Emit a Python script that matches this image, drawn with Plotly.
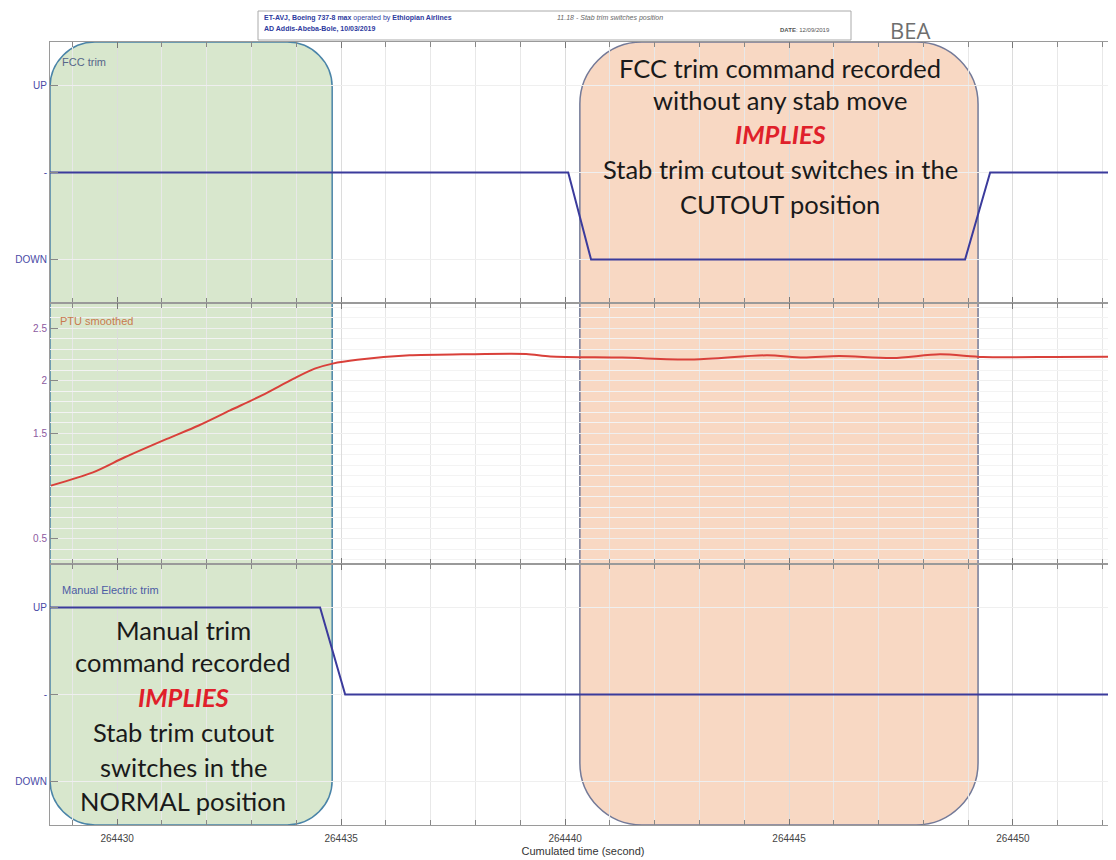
import plotly.graph_objects as go
from plotly.subplots import make_subplots

# ---------------- data ----------------
# FCC trim state (1 = UP, 0 = "-", -1 = DOWN)
fcc_time = [264428.5, 264440.07, 264440.58, 264448.93, 264449.49, 264452.3]
fcc_value = [0, 0, -1, -1, 0, 0]

# PTU smoothed
ptu_time = [264428.52, 264429.46, 264430.17, 264431.11, 264431.82, 264432.52,
            264433.23, 264433.94, 264434.41, 264434.81, 264435.36, 264436.53,
            264437.71, 264439.13, 264439.67, 264441.27, 264442.88, 264444.51,
            264445.31, 264446.12, 264447.32, 264448.37, 264449.33, 264450.94,
            264452.30]
ptu_value = [1.005, 1.131, 1.274, 1.449, 1.576, 1.719,
             1.862, 2.021, 2.116, 2.164, 2.200, 2.243,
             2.252, 2.255, 2.232, 2.221, 2.203, 2.243,
             2.221, 2.236, 2.217, 2.252, 2.227, 2.227,
             2.230]

# Manual electric trim state
man_time = [264428.5, 264434.53, 264435.09, 264452.3]
man_value = [1, 1, 0, 0]

state_tickvals = [1, 0, -1]
state_ticktext = ["UP", "-", "DOWN"]
ptu_tickvals = [0.5, 1.5, 2, 2.5]
ptu_ticktext = ["0.5", "1.5", "2", "2.5"]
time_tickvals = [264430, 264435, 264440, 264445, 264450]
time_ticktext = ["264430", "264435", "264440", "264445", "264450"]

# highlighted spans (start, end)
span_start = [264428.5, 264440.33]
span_end = [264434.80, 264449.22]

green_lines = ["Manual trim", "command recorded", "<b><i>IMPLIES</i></b>",
               "Stab trim cutout", "switches in the", "NORMAL position"]
orange_lines = ["FCC trim command recorded", "without any stab move",
                "<b><i>IMPLIES</i></b>", "Stab trim cutout switches in the",
                "CUTOUT position"]

# ---------------- figure ----------------
# page body has an 8 px margin: figure occupies screen (8..1116, 8..860)
OFF = 8
W, H = 1116 - OFF, 860 - OFF
ML, MR, MT, MB = 50 - OFF, 0, 42 - OFF, 35
PW, PH = W - ML - MR, H - MT - MB
XR = [264428.5, 264452.3]
px_per_s = PW / (XR[1] - XR[0])

fig = make_subplots(rows=3, cols=1, shared_xaxes=True, vertical_spacing=0)

blue = "#3b3b9c"
red = "#d9403a"

fig.add_trace(go.Scatter(x=fcc_time, y=fcc_value, mode="lines",
                         line=dict(color=blue, width=2), hoverinfo="skip"), row=1, col=1)
fig.add_trace(go.Scatter(x=ptu_time, y=ptu_value, mode="lines",
                         line=dict(color=red, width=2, shape="spline", smoothing=0.8),
                         hoverinfo="skip"), row=2, col=1)
fig.add_trace(go.Scatter(x=man_time, y=man_value, mode="lines",
                         line=dict(color=blue, width=2), hoverinfo="skip"), row=3, col=1)


def rounded_path(x0, x1, r_px):
    rx = r_px / px_per_s
    ry = r_px / PH
    y0, y1 = 0.0, 1.0
    k = 0.5523
    p = (f"M {x0+rx},{y1} L {x1-rx},{y1} "
         f"C {x1-rx+k*rx},{y1} {x1},{y1-ry+k*ry} {x1},{y1-ry} "
         f"L {x1},{y0+ry} "
         f"C {x1},{y0+ry-k*ry} {x1-rx+k*rx},{y0} {x1-rx},{y0} "
         f"L {x0+rx},{y0} "
         f"C {x0+rx-k*rx},{y0} {x0},{y0+ry-k*ry} {x0},{y0+ry} "
         f"L {x0},{y1-ry} "
         f"C {x0},{y1-ry+k*ry} {x0+rx-k*rx},{y1} {x0+rx},{y1} Z")
    return p


box_styles = [("#d8e7cd", "#4a84a8", 45), ("#f8d8c3", "#747a98", 62)]
for s, e, (fc, lc, r) in zip(span_start, span_end, box_styles):
    fig.add_shape(type="path", path=rounded_path(s, e, r), xref="x", yref="paper",
                  fillcolor=fc, line=dict(color=lc, width=1.5), layer="below")


def py(pix):
    # screen pixel row -> paper y
    return (H - MB - (pix - OFF)) / PH


def pxp(pix):
    # screen pixel column -> paper x
    return (pix - OFF - ML) / PW


txt_font = dict(family="Lato, 'Noto Sans', sans-serif", size=25.5, color="#1a1a1a")
green_center = 264431.47
green_y = [630, 662, 697, 732, 767, 801]
for t, yy in zip(green_lines, green_y):
    f = dict(txt_font)
    if "IMPLIES" in t:
        f["color"] = "#e0202a"
    fig.add_annotation(x=green_center, xref="x", y=py(yy), yref="paper", text=t,
                       showarrow=False, font=f, xanchor="center", yanchor="middle")

orange_center = 264444.80
orange_y = [68, 100, 134, 169, 204]
for t, yy in zip(orange_lines, orange_y):
    f = dict(txt_font)
    if "IMPLIES" in t:
        f["color"] = "#e0202a"
    fig.add_annotation(x=orange_center, xref="x", y=py(yy), yref="paper", text=t,
                       showarrow=False, font=f, xanchor="center", yanchor="middle")

# panel titles
small = "Liberation Sans, Arial, sans-serif"
fig.add_annotation(x=pxp(60), xref="paper", y=py(62), yref="paper", text="FCC trim",
                   showarrow=False, xanchor="left", yanchor="middle",
                   font=dict(family=small, size=11, color="#56668a"))
fig.add_annotation(x=pxp(58), xref="paper", y=py(321), yref="paper", text="PTU smoothed",
                   showarrow=False, xanchor="left", yanchor="middle",
                   font=dict(family=small, size=11, color="#c87a4e"))
fig.add_annotation(x=pxp(60), xref="paper", y=py(590), yref="paper", text="Manual Electric trim",
                   showarrow=False, xanchor="left", yanchor="middle",
                   font=dict(family=small, size=11, color="#4c5ca4"))

# header box
fig.add_shape(type="rect", xref="paper", yref="paper",
              x0=pxp(258), x1=pxp(851), y0=py(40), y1=py(11),
              line=dict(color="#aaaaaa", width=1), fillcolor="white")
fig.add_annotation(x=pxp(262), xref="paper", y=py(18), yref="paper",
                   text="<b>ET-AVJ, Boeing 737-8 max</b> operated by <b>Ethiopian Airlines</b>",
                   showarrow=False, xanchor="left", yanchor="middle",
                   font=dict(family=small, size=7, color="#2d3a9e"))
fig.add_annotation(x=pxp(262), xref="paper", y=py(29), yref="paper",
                   text="<b>AD Addis-Abeba-Bole, 10/03/2019</b>",
                   showarrow=False, xanchor="left", yanchor="middle",
                   font=dict(family=small, size=7, color="#2d3a9e"))
fig.add_annotation(x=pxp(555), xref="paper", y=py(18), yref="paper",
                   text="<i>11.18 - Stab trim switches position</i>",
                   showarrow=False, xanchor="left", yanchor="middle",
                   font=dict(family=small, size=7, color="#666666"))
fig.add_annotation(x=pxp(778), xref="paper", y=py(30), yref="paper",
                   text="<b>DATE</b>: 12/09/2019",
                   showarrow=False, xanchor="left", yanchor="middle",
                   font=dict(family=small, size=6, color="#555555"))
fig.add_annotation(x=pxp(910), xref="paper", y=py(30), yref="paper",
                   text="BEA", showarrow=False, xanchor="center", yanchor="middle",
                   font=dict(family="'Open Sans', sans-serif", size=22, color="#6e6e6e"))

# axes
grid_c = "#e8e8e8"
for i in range(1, 4):
    fig.update_xaxes(row=i, col=1, range=XR, tickvals=time_tickvals, ticktext=time_ticktext,
                     showticklabels=(i == 3), ticks="inside", ticklen=6, tickcolor="#777",
                     showline=True, linecolor="#9a9a9a", linewidth=1, mirror="ticks",
                     showgrid=True, gridcolor="#dcdcdc", gridwidth=1, zeroline=False,
                     minor=dict(dtick=1, tick0=264430, ticks="inside", ticklen=5,
                                tickcolor="#888", showgrid=True, gridcolor=grid_c),
                     tickfont=dict(family=small, size=10, color="#444444"))

fig.update_xaxes(row=3, col=1, ticklabelstandoff=4,
                 title=dict(text="Cumulated time (second)", standoff=4,
                            font=dict(family=small, size=11, color="#333333")))

for i in (1, 3):
    fig.update_yaxes(row=i, col=1, range=[-1.5, 1.5], tickvals=state_tickvals,
                     ticktext=state_ticktext, ticks="inside", ticklen=8, tickcolor="#888",
                     showline=True, linecolor="#9a9a9a", showgrid=True, gridcolor="#efefef",
                     zeroline=False,
                     tickfont=dict(family=small, size=10, color="#4a4aa6"))
fig.update_yaxes(row=2, col=1, range=[0.26, 2.74], tickvals=ptu_tickvals, ticktext=ptu_ticktext,
                 ticks="inside", ticklen=8, tickcolor="#888",
                 showline=True, linecolor="#9a9a9a", showgrid=True, gridcolor="#efefef",
                 zeroline=False,
                 minor=dict(dtick=0.1, showgrid=True, gridcolor="#f3f3f3"),
                 tickfont=dict(family=small, size=10, color="#8c5aa0"))

fig.update_layout(width=W, height=H, margin=dict(l=ML, r=MR, t=MT, b=MB),
                  paper_bgcolor="white", plot_bgcolor="rgba(0,0,0,0)", showlegend=False)

fig.write_html("out.html")
